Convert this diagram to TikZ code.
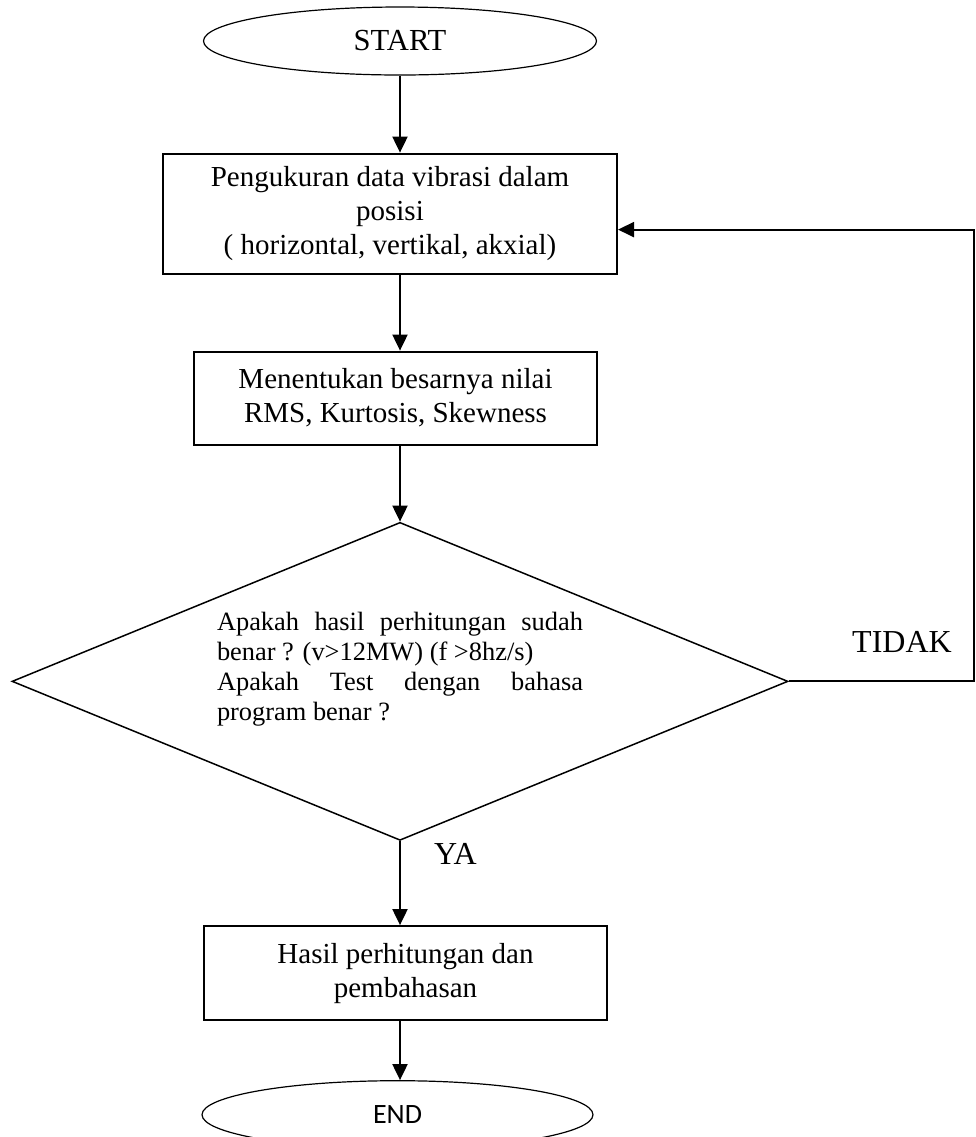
\documentclass[tikz,border=0pt]{standalone}
\usepackage{fontspec}
\setmainfont{Liberation Serif}
\newfontfamily\endfont{Carlito}
\usepackage{tikz}
\usetikzlibrary{arrows.meta,positioning,shapes.geometric}

\begin{document}
\begin{tikzpicture}[->,>={Triangle[length=8pt,width=7.5pt]},line width=1pt,node distance=38pt]
 \tikzstyle{term}=[draw,ellipse,line width=0.6pt,inner sep=0pt,minimum width=196.5pt,minimum height=34pt]
 \tikzstyle{proc}=[draw,rectangle,inner sep=0pt,align=center,font=\fontsize{14.5}{17}\selectfont]
 \tikzstyle{cek}=[draw,diamond,aspect=2.44,line width=0.75pt,inner sep=0pt,minimum width=388pt,minimum height=159pt,text width=183pt,align=justify,font=\fontsize{13.2}{15}\selectfont]
 \tikzstyle{lbl}=[inner sep=0pt,font=\fontsize{16}{19}\selectfont]

 \useasboundingbox (0,0) rectangle (488pt,-568.5pt);

   \node[term,font=\fontsize{15.3}{18}\selectfont] (mulai) at (200pt,-20.5pt) {START};
   \node[proc,minimum width=227pt,minimum height=60pt] (ukur) [below=38.5pt of mulai,xshift=-5pt] {Pengukuran data vibrasi dalam\\posisi\\( horizontal, vertikal, akxial)};
   \node[proc,minimum width=201.5pt,minimum height=46.5pt] (nilai) [below=38pt of ukur,xshift=2.75pt] {Menentukan besarnya nilai\\RMS, Kurtosis, Skewness};
   \node[cek] (uji) [below=38pt of nilai,xshift=2.25pt] {Apakah hasil perhitungan sudah\linebreak benar ? (v>12MW) (f >8hz/s)\\Apakah Test dengan bahasa\linebreak program benar ?\par\kern12.5pt};
   \node[proc,minimum width=201.5pt,minimum height=47pt] (hasil) [below=42pt of uji,xshift=2.75pt] {Hasil perhitungan dan\\pembahasan};
   \node[term,minimum width=195.5pt,font=\endfont\fontsize{14}{17}\selectfont] (selesai) [below=29.5pt of hasil,xshift=-4pt] {END};

   \coordinate[right=92.5pt of uji.east] (belok);
   \coordinate[below=8pt of ukur.east] (balik);
   \node[lbl] (tidak) [above left=14pt and 10.5pt of belok] {TIDAK};
   \node[lbl] (ya) [below right=0.5pt and 16.5pt of uji.south] {YA};

   \path[->]
   (mulai) edge (mulai |- ukur.north)
   (ukur.south -| mulai) edge (mulai |- nilai.north)
   (nilai.south -| mulai) edge (uji.north)
   (uji) edge (uji |- hasil.north)
   (hasil.south -| mulai) edge (mulai |- selesai.north);
   \draw (uji.east) -- (belok) |- (balik);

\end{tikzpicture}
\end{document}
